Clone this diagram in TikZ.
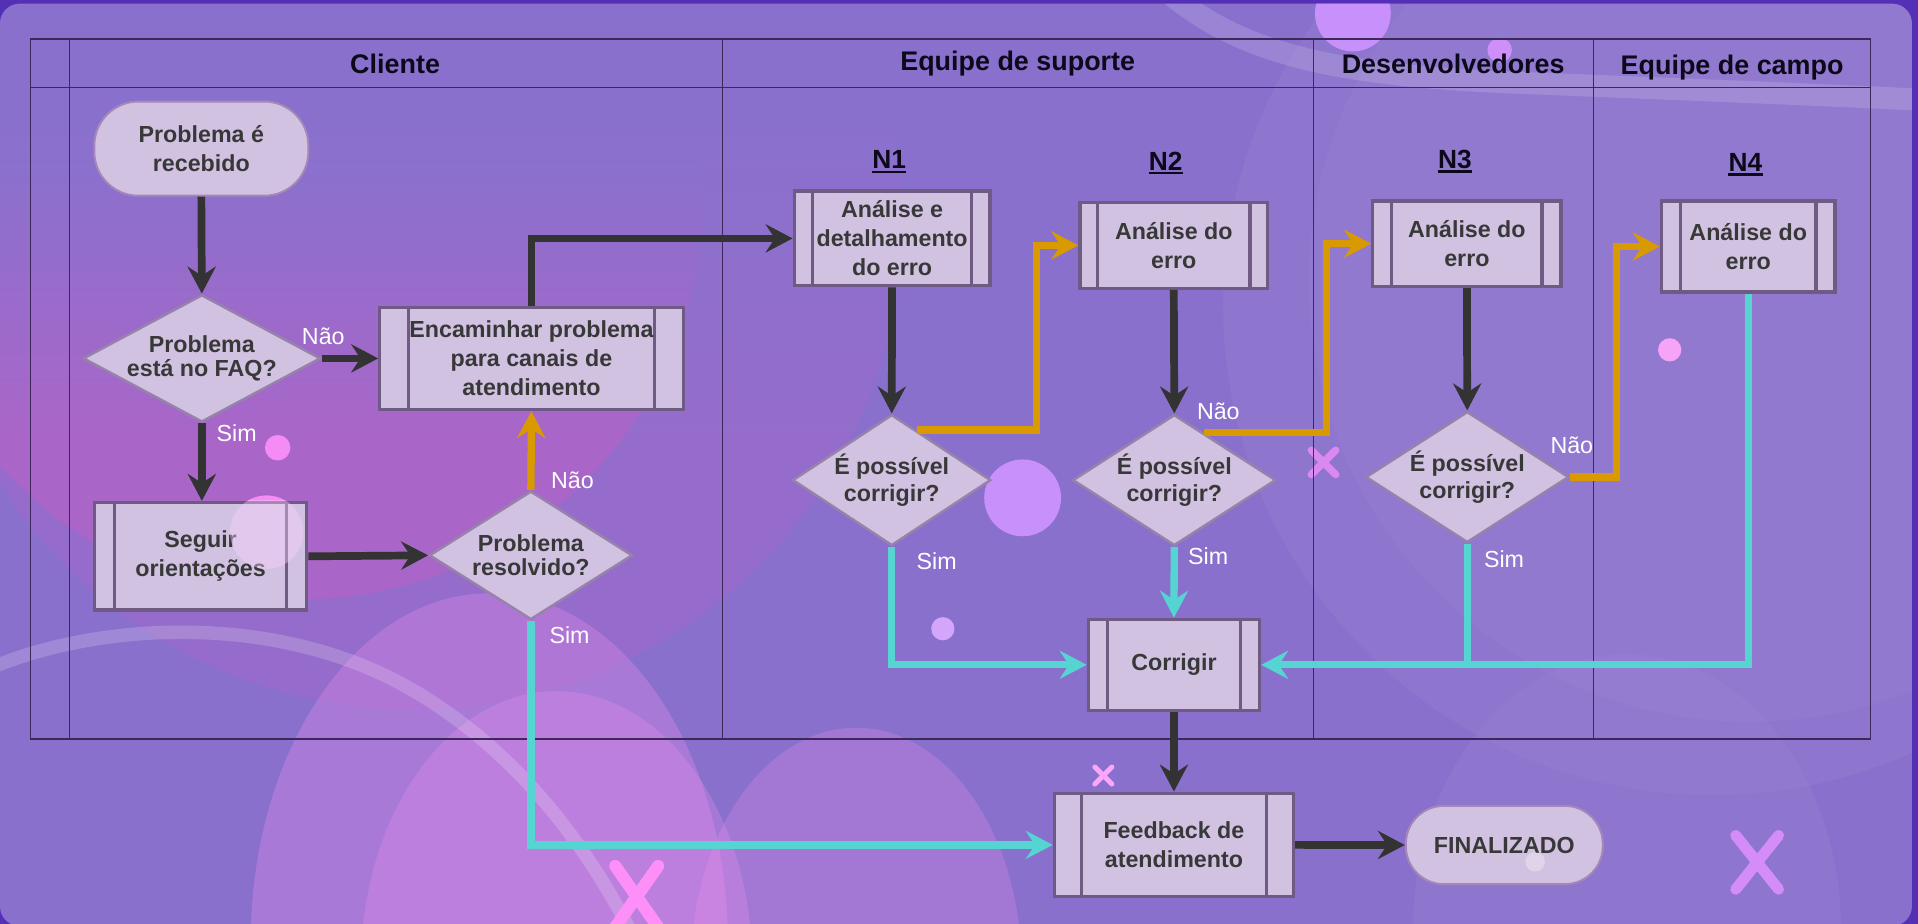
\documentclass[tikz,border=0pt]{standalone}
\usepackage{fontspec}
\setmainfont{Liberation Sans}
\usetikzlibrary{arrows.meta,shapes.geometric,calc}
\definecolor{bandc}{HTML}{5330B6}
\definecolor{panelc}{HTML}{8A70CD}
\definecolor{magc}{HTML}{C85CC4}
\definecolor{ellc}{HTML}{F090F0}
\definecolor{boxf}{HTML}{D2C2E2}
\definecolor{procb}{HTML}{6E5A82}
\definecolor{decb}{HTML}{9682AA}
\definecolor{termb}{HTML}{A587B9}
\definecolor{txt}{HTML}{383838}
\definecolor{hdtxt}{HTML}{0C0A1A}
\definecolor{tabc}{HTML}{3C285A}
\definecolor{darkc}{HTML}{333333}
\definecolor{orgc}{HTML}{D89A00}
\definecolor{cyc}{HTML}{55D4D2}
\definecolor{pinkc}{HTML}{F58CF5}
\definecolor{lavc}{HTML}{C890FA}
\definecolor{xpink}{HTML}{FF8FF8}
\definecolor{xlav}{HTML}{D48CF8}
\colorlet{magA}{magc!50!panelc}
\colorlet{magB}{magc!18!panelc}
\newcommand\bxfont{\fontsize{19}{23.7}\selectfont\bfseries}
\newcommand\dafont{\fontsize{19}{20}\selectfont\bfseries}
\newcommand\dbfont{\fontsize{19}{22.6}\selectfont\bfseries}
\newcommand\hdfont{\fontsize{22}{26}\selectfont\bfseries}
\newcommand\nfont{\fontsize{21.5}{26}\selectfont\bfseries}
\newcommand\lbfont{\fontsize{19}{22}\selectfont}
\begin{document}
\begin{tikzpicture}[x=1pt,y=-1pt,
  barw/.initial=16pt,
  proc/.style={rectangle, draw=procb, line width=2.7pt, fill=boxf, inner sep=0pt,
    align=center, font=\bxfont, text=txt,
    path picture={\draw[draw=procb, line width=2.7pt]
      ([xshift=\pgfkeysvalueof{/tikz/barw}]path picture bounding box.north west) --
      ([xshift=\pgfkeysvalueof{/tikz/barw}]path picture bounding box.south west)
      ([xshift=-\pgfkeysvalueof{/tikz/barw}]path picture bounding box.north east) --
      ([xshift=-\pgfkeysvalueof{/tikz/barw}]path picture bounding box.south east);}},
  term/.style={rectangle, draw=termb, line width=1.6pt, fill=boxf, inner sep=0pt,
    align=center, font=\bxfont, text=txt},
  dec/.style={diamond, draw=decb, line width=2pt, fill=boxf, inner sep=0pt},
  dtxt/.style={align=center, text=txt, inner sep=0pt},
  lab/.style={text=white, font=\lbfont, inner sep=0pt},
  hlab/.style={text=hdtxt, font=\hdfont, inner sep=0pt, anchor=base},
  nlab/.style={text=hdtxt, font=\nfont, inner sep=0pt, anchor=base},
  uline/.style={draw=hdtxt, line width=2pt},
  tab/.style={draw=tabc, line width=1.3pt},
  tip/.style={-{Stealth[length=22pt,width=23pt,inset=7.5pt]}},
  darr/.style={draw=darkc, line width=6.3pt, tip},
  oarr/.style={draw=orgc, line width=6pt, tip},
  carr/.style={draw=cyc, line width=6pt, tip},
  cline/.style={draw=cyc, line width=6pt},
  xm/.style={line cap=round}
]
\useasboundingbox (0,0) rectangle (1568,755);
% ---------- background ----------
\fill[bandc] (0,0) rectangle (1568,755);
\fill[panelc, rounded corners=16pt] (0,3) rectangle (1563,757);
\begin{scope}
\clip[rounded corners=16pt] (0,3) rectangle (1563,757);
\fill[white, opacity=0.04] (1400,250) circle (400);
\fill[white, opacity=0.035] (1430,230) circle (360);
\begin{scope}
\clip (337,180) circle (400);
\shade[top color=panelc, bottom color=magB] (-80,100) rectangle (760,360);
\fill[magB] (-80,359) rectangle (760,600);
\end{scope}
\begin{scope}
\clip (245,160) circle (330);
\shade[top color=panelc, bottom color=magA] (-100,130) rectangle (600,360);
\fill[magA] (-100,359) rectangle (600,500);
\end{scope}
\fill[white, opacity=0.035] (1330,760) ellipse (175 and 225);
\fill[ellc, opacity=0.3] (400,770) ellipse (195 and 285);
\fill[ellc, opacity=0.28] (455,790) ellipse (160 and 225);
\fill[ellc, opacity=0.25] (700,790) ellipse (135 and 195);
\draw[white, opacity=0.14, line width=18pt] (945,-15) .. controls (1010,45) and (1090,62) .. (1250,68) .. controls (1400,74) and (1500,78) .. (1580,82);
\draw[white, opacity=0.18, line width=11pt] (-5,545) .. controls (80,510) and (220,500) .. (330,560) .. controls (420,610) and (480,690) .. (520,770);
\fill[lavc] (1106,11) circle (31);
\fill[lavc!85!pinkc] (1226,41) circle (10);
\fill[lavc] (836,407) circle (31.4);
\fill[pinkc] (227,366) circle (10.4);
\fill[pinkc!80!white] (1365,286) circle (9.5);
\fill[lavc!80!white] (770.8,514) circle (9.5);
\fill[pinkc] (218,435) circle (30);
\draw[xm, draw=xpink, line width=10pt] (503,708) -- (538,758) (538,708) -- (503,758);
\draw[xm, draw=xlav, line width=9pt] (1419,683) -- (1454,727) (1454,683) -- (1419,727);
\draw[xm, draw=xpink!80!white, line width=4pt] (895,627) -- (909,641) (909,627) -- (895,641);
\draw[xm, draw=xpink!70!lavc, line width=6pt, opacity=0.8] (1072,368) -- (1092,388) (1092,368) -- (1072,388);
\end{scope}
% ---------- swimlane table ----------
\draw[tab] (25,32) rectangle (1529,604);
\draw[tab] (25,71.4) -- (1529,71.4);
\draw[tab] (56.7,32) -- (56.7,604);
\draw[tab] (590.6,32) -- (590.6,604);
\draw[tab] (1073.7,32) -- (1073.7,604);
\draw[tab] (1302.6,32) -- (1302.6,604);
\node[hlab] (h1) at (323,60) {Cliente};
\node[hlab] (h2) at (832,58) {Equipe de suporte};
\node[hlab] (h3) at (1188,60) {Desenvolvedores};
\node[hlab] (h4) at (1416,60.5) {Equipe de campo};
\node[nlab] (n1) at (727,138) {N1};
\node[nlab] (n2) at (953,139) {N2};
\node[nlab] (n3) at (1189.5,137.6) {N3};
\node[nlab] (n4) at (1427,140) {N4};
\foreach \n in {n1,n2,n3,n4}
  \draw[uline] ([yshift=-2.5pt]\n.base west) -- ([yshift=-2.5pt]\n.base east);
% ---------- nodes ----------
\node[term, rounded corners=36pt, minimum width=175pt, minimum height=77pt] (rec) at (164.6,121.5) {Problema é\\recebido};
\node[dec, minimum width=194pt, minimum height=104pt] (faq) at (165,293) {};
\node[dtxt, font=\dafont] (faqt) at (faq) {Problema\\está no FAQ?};
\node[proc, barw=23.5pt, minimum width=248pt, minimum height=83.5pt] (enc) at (434.5,293) {Encaminhar problema\\para canais de\\atendimento};
\node[proc, barw=16.5pt, minimum width=173.5pt, minimum height=88pt] (seg) at (164,454.8) {Seguir\\orientações};
\node[dec, minimum width=166pt, minimum height=105pt] (res) at (434,454) {};
\node[dtxt, font=\dafont] (rest) at (res) {Problema\\resolvido?};
\node[proc, barw=15pt, minimum width=160pt, minimum height=77.5pt] (a1) at (729.3,194.9) {Análise e\\detalhamento\\do erro};
\node[dec, minimum width=162pt, minimum height=107pt] (d1) at (729,392.5) {};
\node[dtxt, font=\dbfont] (d1t) at (d1) {É possível\\corrigir?};
\node[proc, barw=14.5pt, minimum width=153.5pt, minimum height=70pt] (a2) at (959.6,200.6) {Análise do\\erro};
\node[dec, minimum width=166pt, minimum height=107pt] (d2) at (960,392.5) {};
\node[dtxt, font=\dbfont] (d2t) at (d2) {É possível\\corrigir?};
\node[proc, barw=15.5pt, minimum width=154pt, minimum height=70pt] (a3) at (1199.2,199.2) {Análise do\\erro};
\node[dec, minimum width=166pt, minimum height=107pt] (d3) at (1199.5,390) {};
\node[dtxt, font=\dbfont] (d3t) at (d3) {É possível\\corrigir?};
\node[proc, barw=15.5pt, minimum width=142pt, minimum height=74.5pt] (a4) at (1429.2,201.5) {Análise do\\erro};
\node[proc, barw=15.5pt, minimum width=140pt, minimum height=74.5pt] (cor) at (959.7,543.5) {Corrigir};
\node[proc, barw=22pt, minimum width=195.5pt, minimum height=84.5pt] (fb) at (959.7,690.7) {Feedback de\\atendimento};
\node[term, rounded corners=31pt, minimum width=161pt, minimum height=64pt] (fin) at (1229.8,690.8) {FINALIZADO};
% overlays on boxes
\begin{scope}
\clip (seg.north west) rectangle (seg.south east);
\fill[pinkc!40!white, opacity=0.4] (218,435) circle (30);
\end{scope}
\fill[white, opacity=0.3] (1255,704.5) circle (8);
% ---------- connectors ----------
\draw[darr] (rec.south) -- (faq.north);
\draw[darr] (faq.east) -- (enc.west);
\draw[darr] (faq.south) -- (faq.south |- seg.north);
\draw[darr] (seg.east) -- (res.west);
\draw[oarr] (res.north) -- (enc.south);
\draw[darr] (enc.north) |- (a1.west);
\draw[darr] (a1.south) -- (d1.north);
\coordinate (o1) at ($(d1.north)!0.25!(d1.east)$);
\coordinate (v1) at ([xshift=-34pt]a2.west);
\draw[oarr] (o1) -| (v1) -- (a2.west);
\draw[darr] (a2.south) -- (d2.north);
\coordinate (o2) at ($(d2.north)!0.29!(d2.east)$);
\coordinate (v2) at ([xshift=-36.5pt]a3.west);
\draw[oarr] (o2) -| (v2) -- (a3.west);
\draw[darr] (a3.south) -- (d3.north);
\coordinate (v3) at ([xshift=-35.6pt]a4.west);
\draw[oarr] (d3.east) -| (v3) -- (a4.west);
\draw[carr] (d1.south) |- (cor.west);
\draw[carr] (d2.south) -- (cor.north);
\draw[carr] (a4.south) |- (cor.east);
\draw[cline] (d3.south) -- (d3.south |- cor.east);
\draw[darr] (cor.south) -- (fb.north);
\draw[carr] (res.south) |- (fb.west);
\draw[darr] (fb.east) -- (fin.west);
% ---------- labels ----------
\node[lab] (l1) at (264.3,274.7) {Não};
\node[lab] (l2) at (193.5,354.3) {Sim};
\node[lab] (l3) at (468,392.7) {Não};
\node[lab] (l4) at (465.6,519) {Sim};
\node[lab] (l5) at (765.8,459) {Sim};
\node[lab] (l6) at (996,336.6) {Não};
\node[lab] (l7) at (987.7,455) {Sim};
\node[lab] (l8) at (1285,363.8) {Não};
\node[lab] (l9) at (1229.6,457) {Sim};
\end{tikzpicture}
\end{document}
